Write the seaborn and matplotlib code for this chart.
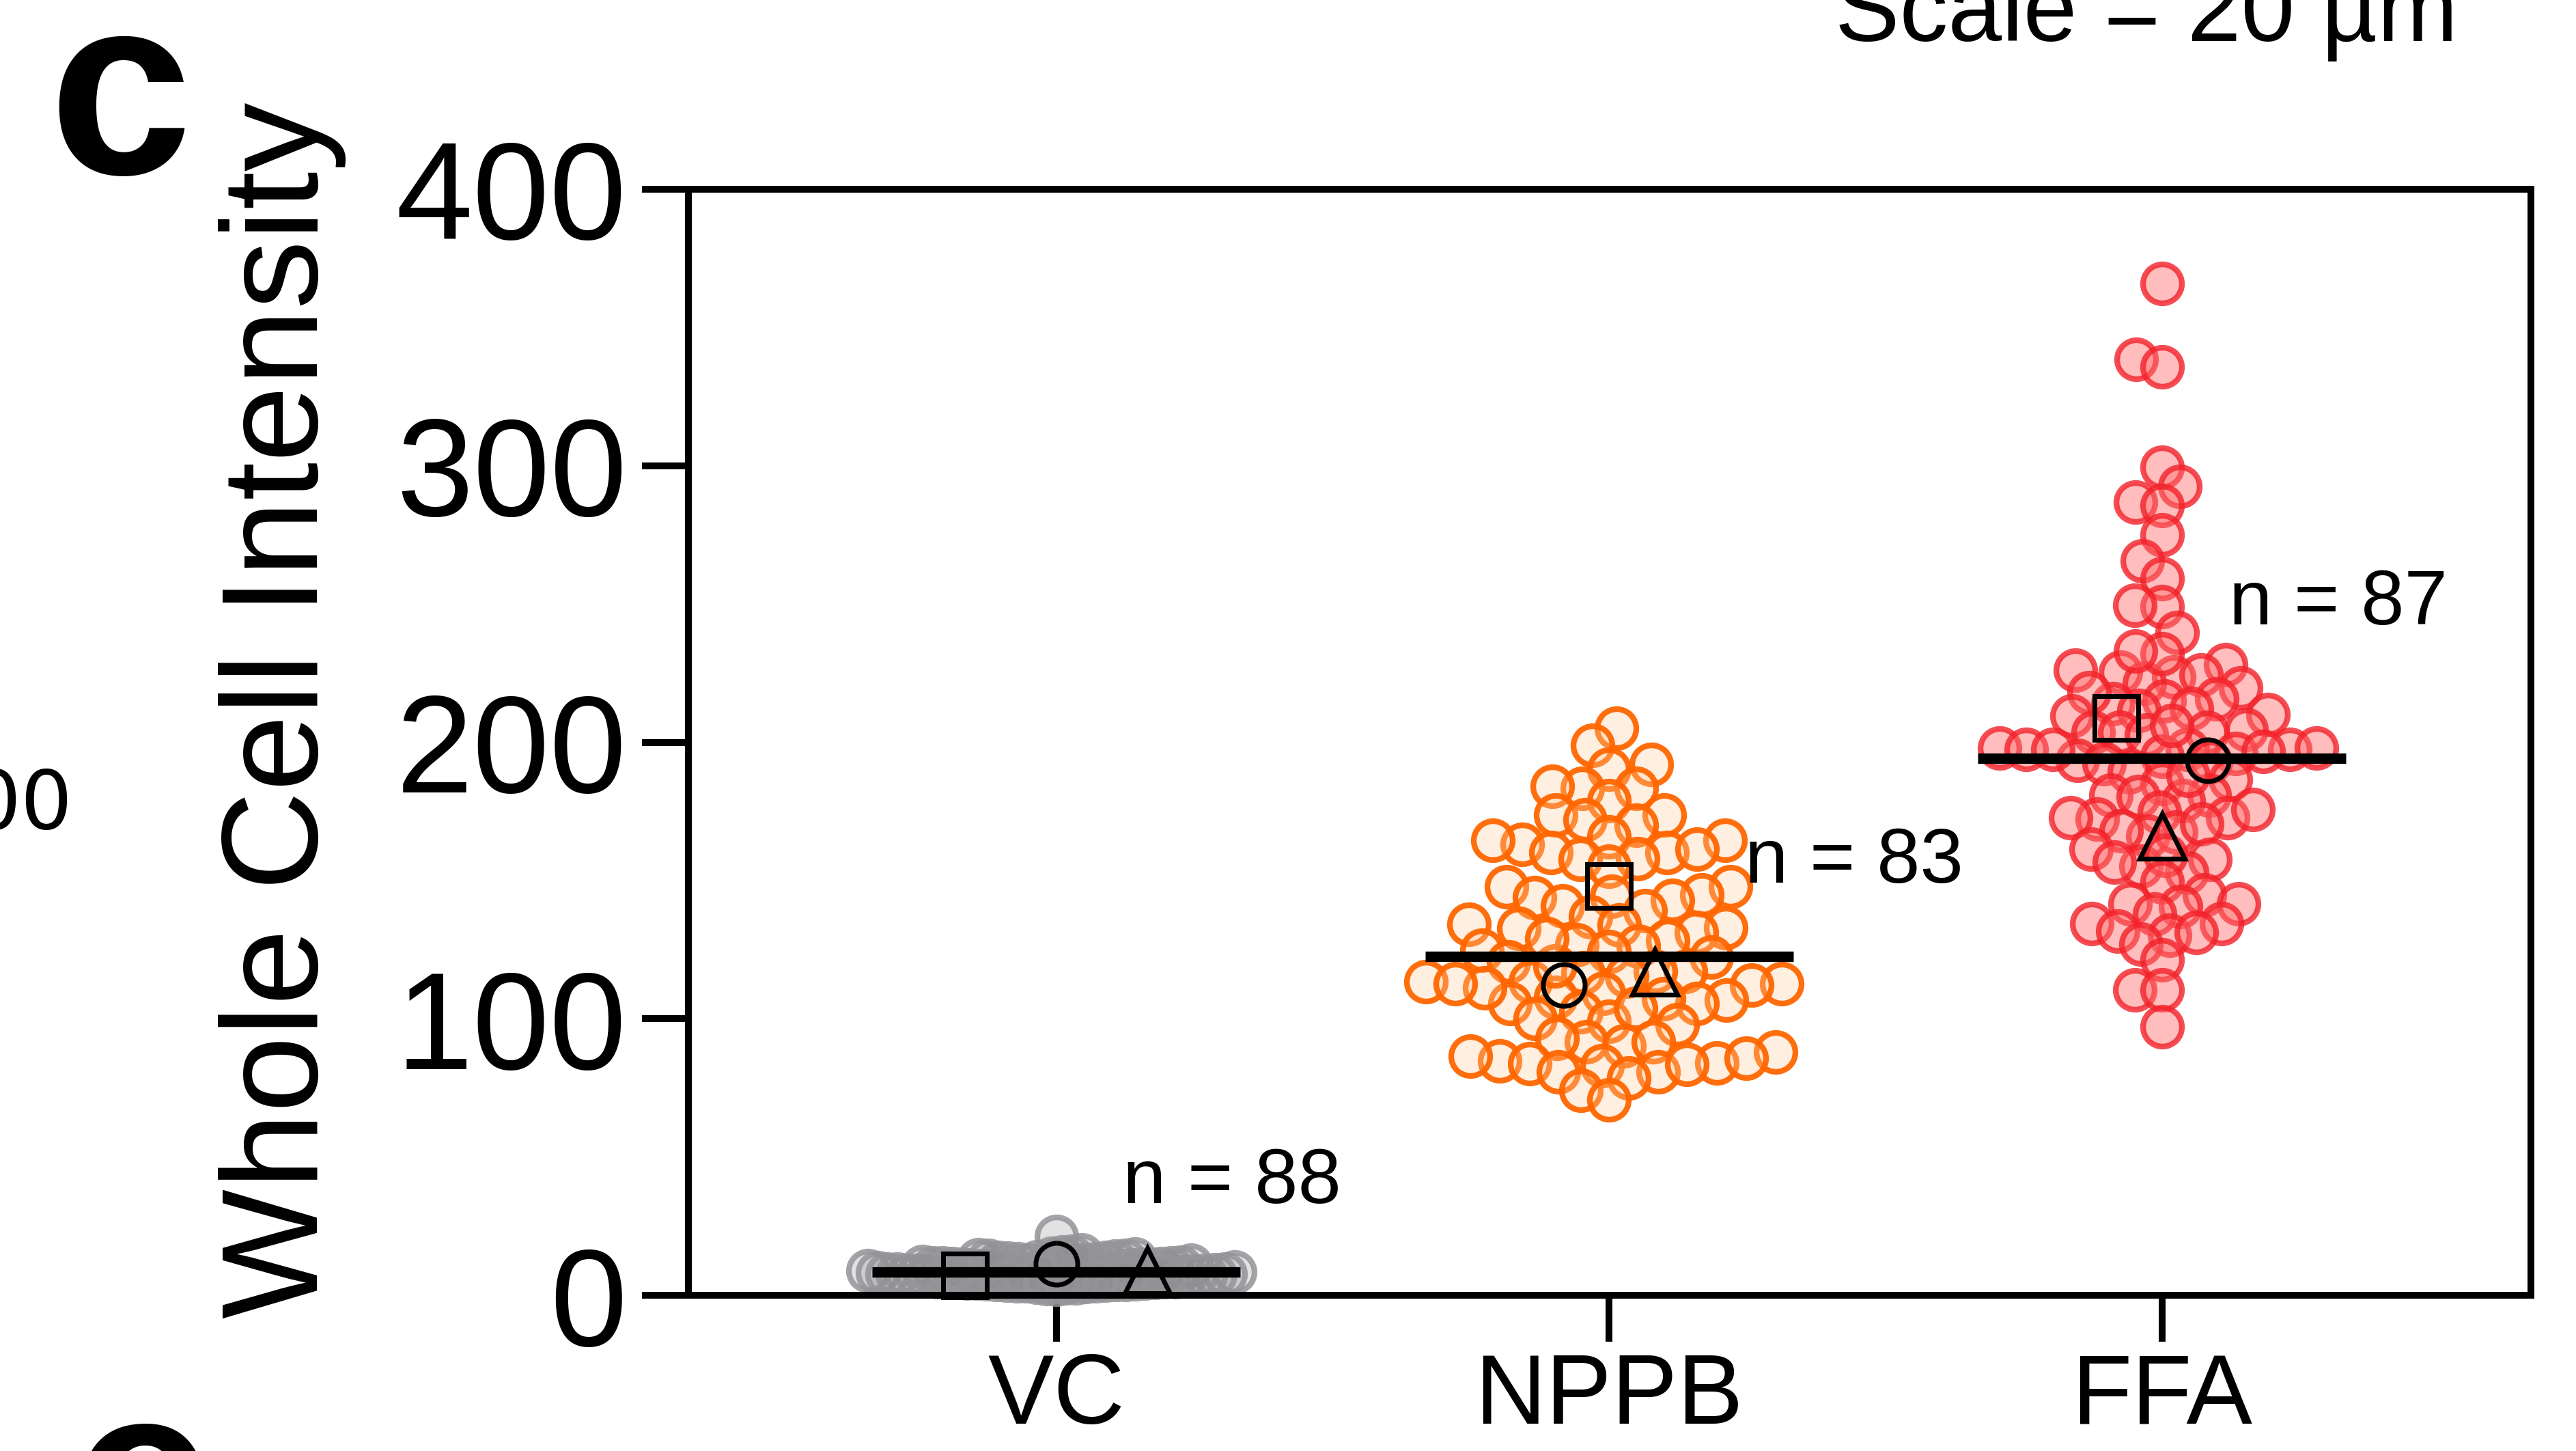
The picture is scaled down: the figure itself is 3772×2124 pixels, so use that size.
import numpy as np
import pandas as pd
import matplotlib
matplotlib.use("Agg")
import matplotlib.pyplot as plt
import seaborn as sns

# ---- data ----
GROUPS = ["VC", "NPPB", "FFA"]

VC = [21.2, 14.6, 13.9, 13.1, 12.7, 12.4, 12.2, 11.9, 11.6, 11.5, 11.3, 11.0,
      10.8, 10.8, 10.5, 10.3, 10.1, 10.0, 9.8, 9.7, 9.5, 9.4, 9.4, 9.2, 9.0,
      8.9, 8.9, 8.7, 8.6, 8.5, 8.4, 8.3, 8.3, 8.1, 8.0, 7.9, 7.8, 7.8, 7.6,
      7.5, 7.5, 7.3, 7.2, 7.1, 7.0, 6.9, 6.8, 6.7, 6.6, 6.5, 6.4, 6.2, 6.1,
      6.0, 5.9, 5.7, 5.6, 5.4, 5.3, 5.1, 4.9, 4.7, 4.5, 4.2, 3.9, 13.4, 12.9,
      12.0, 11.1, 10.6, 9.9, 9.1, 8.8, 8.2, 7.7, 7.4, 6.9, 6.3, 5.8, 5.2, 4.4,
      14.1, 12.6, 10.4, 9.6, 7.0, 6.6, 5.5]

NPPB = [205.0, 198.8, 192.1, 190.2, 183.3, 184.1, 183.3, 178.9, 173.7, 171.9,
        173.7, 170.1, 165.7, 163.1, 160.2, 160.2, 164.6, 164.6, 161.3, 158.0,
        157.7, 155.2, 147.7, 147.7, 143.9, 144.2, 144.7, 142.9, 139.2, 140.9,
        137.0, 132.9, 131.2, 134.2, 134.0, 132.6, 128.2, 124.9, 126.3, 126.7,
        124.3, 122.3, 120.5, 117.1, 117.1, 116.6, 115.5, 113.5, 112.7, 113.3,
        107.8, 109.1, 105.6, 112.2, 111.1, 112.7, 106.7, 105.6, 107.2, 102.5,
        97.9, 99.0, 103.9, 100.1, 91.8, 92.9, 90.1, 91.8, 87.9, 83.0,
        84.1, 84.8, 83.7, 86.6, 80.8, 80.8, 78.5, 83.5, 85.7, 74.1,
        70.8, 119.0, 128.9]

FFA = [366.0, 338.5, 335.8, 299.4, 292.5, 286.8, 285.6, 275.0, 265.6, 259.2,
       249.0, 249.5, 239.7, 228.0, 223.6, 225.3, 221.4, 232.0, 233.0, 226.0,
       224.3, 219.6, 214.0, 215.0, 218.0, 215.7, 211.5, 212.2, 210.0, 209.5,
       204.6, 203.6, 203.6, 203.5, 202.6, 197.4, 197.4, 196.0, 195.0, 198.0,
       198.0, 197.4, 193.5, 197.4, 196.7, 192.2, 193.0, 189.2, 186.5, 185.0,
       180.8, 180.8, 178.9, 180.4, 172.7, 175.7, 174.7, 172.2, 166.0, 167.5,
       168.0, 170.5, 172.7, 157.6, 161.3, 152.9, 155.2, 156.6, 159.0, 149.5,
       144.8, 141.6, 140.6, 141.6, 137.9, 134.4, 134.4, 131.7, 130.2, 131.2,
       127.0, 121.3, 110.4, 110.4, 97.1, 206.0, 188.0]

MEAN_LINE = [8.5, 122.5, 194.2]
REP_SQUARE = [7.2, 148.0, 208.7]
REP_CIRCLE = [11.4, 112.2, 193.5]
REP_TRIANGLE = [8.9, 116.9, 166.1]
Y_TICKS = [0, 100, 200, 300, 400]

# ---- styling ----
FACE = {"VC": (0.55, 0.55, 0.57, 0.25),
        "NPPB": (1.0, 0.80, 0.60, 0.30),
        "FFA": (1.0, 0.43, 0.43, 0.45)}
EDGE = {"VC": (0.58, 0.58, 0.60, 0.85),
        "NPPB": (1.0, 0.40, 0.0, 0.95),
        "FFA": (0.95, 0.13, 0.16, 0.80)}
LAYOUT_SIZE = {"VC": 10, "NPPB": 30, "FFA": 27}   # only used to pack the swarm
MARKER_SIZE = 41
MARKER_LW = 6
REP_DX = {"s": [-0.165, 0.0, -0.083],
          "o": [0.0, -0.082, 0.083],
          "^": [0.165, 0.083, 0.0]}
N_POS = [(0.12, 33.4), (1.245, 149.2), (2.121, 242.6)]

sns.set_theme(style="ticks")
plt.rcParams["font.family"] = ["Liberation Sans", "DejaVu Sans"]
plt.rcParams.update({"text.color": "black", "axes.labelcolor": "black",
                     "xtick.color": "black", "ytick.color": "black",
                     "axes.edgecolor": "black"})

fig = plt.figure(figsize=(37.73, 21.24), dpi=100)
ax = fig.add_axes([0.2672, 0.1073, 0.7150, 0.7623])

values = {"VC": VC, "NPPB": NPPB, "FFA": FFA}
swarms = {}
for g in GROUPS:
    sub = pd.DataFrame({"group": g, "value": values[g]})
    before = len(ax.collections)
    sns.swarmplot(data=sub, x="group", y="value", order=GROUPS,
                  size=LAYOUT_SIZE[g], linewidth=0, color="0.5", ax=ax,
                  warn_thresh=1.0)
    for coll in ax.collections[before:]:
        if len(coll.get_offsets()) == len(values[g]):
            swarms[g] = coll

ax.set_xlim(-0.665, 2.667)
ax.set_ylim(0, 400)

# pack the swarm at the small size, then freeze it and enlarge the markers
fig.canvas.draw()
for g, coll in swarms.items():
    if "draw" in coll.__dict__:
        del coll.draw
    coll.set_sizes([MARKER_SIZE ** 2])
    coll.set_linewidth(MARKER_LW)
    coll.set_facecolor(FACE[g])
    coll.set_edgecolor(EDGE[g])
    coll.set_clip_on(False)
    coll.set_zorder(2)

for i, m in enumerate(MEAN_LINE):
    ax.hlines(m, i - 0.333, i + 0.333, color="black", linewidth=11, zorder=3,
              clip_on=False)

for marker, vals, ms in [("s", REP_SQUARE, 46), ("o", REP_CIRCLE, 44),
                         ("^", REP_TRIANGLE, 47)]:
    xs = [i + dx for i, dx in enumerate(REP_DX[marker])]
    ax.plot(xs, vals, linestyle="none", marker=marker, markersize=ms,
            markerfacecolor="none", markeredgecolor="black",
            markeredgewidth=5, zorder=4, clip_on=False)

for (x, y), g in zip(N_POS, GROUPS):
    ax.text(x, y, f"n = {len(values[g])}", fontsize=82, ha="left",
            va="baseline", zorder=5)

ax.set_yticks(Y_TICKS)
ax.set_xticks(range(len(GROUPS)))
ax.set_xticklabels(GROUPS)
ax.set_xlabel("")
ax.set_ylabel("")
ax.tick_params(axis="y", labelsize=146, length=49, width=7.2, pad=16,
               direction="out", color="black", labelcolor="black")
ax.tick_params(axis="x", labelsize=104, length=49, width=7.2, pad=11,
               direction="out", color="black", labelcolor="black")
for sp in ax.spines.values():
    sp.set_visible(True)
    sp.set_linewidth(7.2)
    sp.set_color("black")
    sp.set_zorder(6)

fig.text(0.1097, 0.5104, "Whole Cell Intensity", rotation=90, fontsize=145,
         ha="center", va="center")
fig.text(0.0188, 0.8804, "c", fontsize=271, fontweight="bold", ha="left",
         va="baseline")
fig.text(0.0276, -0.0758, "e", fontsize=271, fontweight="bold", ha="left",
         va="baseline")
fig.text(0.7122, 0.9718, "Scale = 20 µm", fontsize=102, ha="left",
         va="baseline")
fig.text(0.0281, 0.4289, "00", fontsize=86, ha="right", va="baseline",
         family=["DejaVu Sans"])

fig.savefig("out.png", dpi=100)
